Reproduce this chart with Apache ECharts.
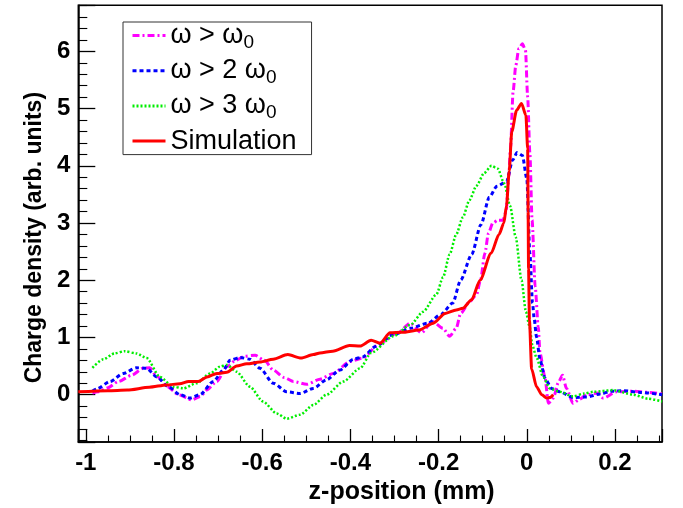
<!DOCTYPE html>
<html><head><meta charset="utf-8">
<script src="https://cdn.jsdelivr.net/npm/echarts@6/dist/echarts.min.js"></script>
<style>html,body{margin:0;padding:0;background:#fff}#c{width:683px;height:508px}</style>
</head><body><div id="c"></div>
<script>
// ---- data ----
const SERIES_NAMES = ['ω > ω0', 'ω > 2 ω0', 'ω > 3 ω0', 'Simulation'];
const X_TICKS = [-1, -0.8, -0.6, -0.4, -0.2, 0, 0.2];
const Y_TICKS = [0, 1, 2, 3, 4, 5, 6];

const W1_X = [-0.985, -0.972, -0.950, -0.926, -0.896, -0.870, -0.855, -0.839, -0.815, -0.790, -0.760, -0.740, -0.726, -0.703, -0.680, -0.660, -0.640, -0.616, -0.595, -0.575, -0.550, -0.529, -0.499, -0.469, -0.439, -0.401, -0.372, -0.333, -0.293, -0.264, -0.239, -0.214, -0.190, -0.175, -0.160, -0.150, -0.130, -0.114, -0.105, -0.095, -0.087, -0.077, -0.065, -0.054, -0.047, -0.041, -0.037, -0.031, -0.025, -0.018, -0.010, -0.003, 0.002, 0.007, 0.012, 0.019, 0.026, 0.030, 0.041, 0.049, 0.060, 0.072, 0.081, 0.090, 0.105, 0.120, 0.136, 0.161, 0.173, 0.204, 0.242, 0.275, 0.307];
const W1_Y = [0.03, 0.05, 0.12, 0.23, 0.34, 0.46, 0.47, 0.32, 0.14, 0.00, -0.09, -0.03, 0.08, 0.23, 0.49, 0.60, 0.67, 0.69, 0.60, 0.43, 0.30, 0.23, 0.18, 0.27, 0.37, 0.58, 0.64, 0.90, 1.08, 1.25, 1.08, 1.28, 1.16, 1.02, 1.16, 1.42, 1.62, 1.75, 2.00, 2.47, 2.82, 3.00, 3.05, 3.05, 3.20, 3.80, 4.30, 5.30, 5.75, 6.05, 6.13, 6.02, 5.20, 4.22, 3.05, 1.89, 1.19, 0.72, 0.31, -0.15, -0.06, 0.22, 0.34, 0.11, -0.15, -0.08, 0.00, 0.03, -0.06, 0.05, 0.06, 0.04, 0.01];

const W2_X = [-0.985, -0.975, -0.945, -0.915, -0.885, -0.862, -0.839, -0.813, -0.786, -0.764, -0.741, -0.711, -0.688, -0.673, -0.650, -0.628, -0.605, -0.575, -0.544, -0.514, -0.484, -0.454, -0.424, -0.393, -0.372, -0.343, -0.303, -0.264, -0.224, -0.195, -0.168, -0.150, -0.125, -0.104, -0.085, -0.068, -0.046, -0.032, -0.022, -0.010, 0.000, 0.007, 0.013, 0.017, 0.022, 0.030, 0.041, 0.056, 0.075, 0.105, 0.136, 0.166, 0.191, 0.219, 0.257, 0.307];
const W2_Y = [0.06, 0.10, 0.23, 0.37, 0.47, 0.46, 0.31, 0.14, 0.00, -0.06, 0.00, 0.23, 0.43, 0.60, 0.65, 0.62, 0.46, 0.20, 0.05, 0.02, 0.11, 0.26, 0.43, 0.62, 0.66, 0.84, 1.05, 1.16, 1.25, 1.40, 1.60, 2.00, 2.45, 2.97, 3.45, 3.64, 3.72, 4.10, 4.23, 4.18, 3.78, 2.47, 1.60, 1.31, 1.01, 0.61, 0.29, 0.11, 0.05, -0.05, -0.04, 0.01, 0.06, 0.07, 0.04, 0.00];

const W3_X = [-0.985, -0.960, -0.935, -0.912, -0.885, -0.862, -0.832, -0.802, -0.779, -0.749, -0.718, -0.696, -0.680, -0.658, -0.628, -0.598, -0.567, -0.544, -0.514, -0.484, -0.454, -0.416, -0.378, -0.353, -0.303, -0.264, -0.235, -0.205, -0.190, -0.175, -0.160, -0.145, -0.130, -0.114, -0.097, -0.080, -0.066, -0.051, -0.038, -0.025, -0.012, -0.002, 0.006, 0.013, 0.022, 0.037, 0.052, 0.075, 0.105, 0.130, 0.151, 0.196, 0.241, 0.275, 0.307];
const W3_Y = [0.47, 0.62, 0.72, 0.76, 0.72, 0.64, 0.31, 0.14, 0.11, 0.20, 0.37, 0.49, 0.52, 0.40, 0.14, -0.12, -0.33, -0.42, -0.35, -0.18, 0.00, 0.23, 0.46, 0.73, 1.02, 1.22, 1.45, 1.75, 2.05, 2.45, 2.80, 3.10, 3.40, 3.65, 3.87, 4.00, 3.95, 3.69, 3.30, 2.75, 2.00, 1.45, 1.20, 0.85, 0.65, 0.31, 0.11, 0.05, -0.03, 0.02, 0.05, 0.08, 0.00, -0.07, -0.12];

const SIM_X = [-1.017, -0.950, -0.906, -0.856, -0.817, -0.787, -0.767, -0.745, -0.725, -0.703, -0.680, -0.658, -0.635, -0.605, -0.575, -0.542, -0.512, -0.484, -0.469, -0.440, -0.402, -0.378, -0.353, -0.333, -0.310, -0.283, -0.244, -0.212, -0.185, -0.160, -0.145, -0.125, -0.106, -0.081, -0.063, -0.052, -0.046, -0.040, -0.034, -0.023, -0.012, -0.002, 0.002, 0.003, 0.004, 0.006, 0.011, 0.022, 0.034, 0.045, 0.052, 0.060];
const SIM_Y = [0.05, 0.07, 0.08, 0.13, 0.17, 0.19, 0.23, 0.23, 0.31, 0.37, 0.39, 0.50, 0.54, 0.57, 0.62, 0.70, 0.64, 0.70, 0.73, 0.76, 0.86, 0.85, 0.95, 0.90, 1.08, 1.09, 1.13, 1.25, 1.42, 1.48, 1.51, 1.66, 2.00, 2.47, 2.80, 3.00, 3.30, 3.90, 4.60, 4.97, 5.09, 4.88, 4.30, 3.20, 2.20, 1.30, 0.45, 0.14, 0.00, -0.06, -0.05, 0.00];

// ---- axis ranges ----
const X_MIN = -1.017, X_MAX = 0.3066;
const Y_MIN = -0.827, Y_MAX = 6.804;

const zip = (xs, ys) => xs.map((x, i) => [x, ys[i]]);
const FONT = 'Liberation Sans';
const near = (v, arr) => arr.some(t => Math.abs(t - v) < 1e-6);

const chart = echarts.init(document.getElementById('c'), null, {renderer: 'canvas'});

const lineSeries = (name, xs, ys, color, width, dash) => ({
  name, type: 'line', data: zip(xs, ys), symbol: 'none', showSymbol: false,
  smooth: 0.25, smoothMonotone: 'x', clip: true,
  lineStyle: {color, width, type: dash, cap: 'butt'},
  itemStyle: {color}
});

chart.setOption({
  animation: false,
  backgroundColor: '#fff',
  grid: {left: 78.3, right: 21, top: 5.3, bottom: 66, show: true,
         borderColor: '#000', borderWidth: 1.5, outerBoundsMode: 'none', containLabel: false},
  xAxis: {
    type: 'value', min: X_MIN, max: X_MAX, minInterval: 0.2, maxInterval: 0.2, splitNumber: 6,
    axisLine: {show: true, onZero: false, lineStyle: {color: '#000', width: 1.5}},
    axisTick: {show: true, inside: true, length: 13, lineStyle: {color: '#000', width: 1.3}},
    minorTick: {show: true, splitNumber: 4, length: 6.5, lineStyle: {color: '#000', width: 1.1}},
    splitLine: {show: false},
    axisLabel: {show: true, showMinLabel: false, showMaxLabel: false, margin: 9,
      color: '#000', fontFamily: FONT, fontWeight: 'bold', fontSize: 24,
      formatter: v => near(v, X_TICKS) ? String(Math.round(v * 10) / 10) : ''},
    name: 'z-position (mm)', nameLocation: 'middle', nameGap: 36,
    nameTextStyle: {color: '#000', fontFamily: FONT, fontWeight: 'bold', fontSize: 25, padding: [0, 0, 0, 63]}
  },
  yAxis: {
    type: 'value', min: Y_MIN, max: Y_MAX, minInterval: 1, maxInterval: 1, splitNumber: 7,
    axisLine: {show: true, onZero: false, lineStyle: {color: '#000', width: 1.5}},
    axisTick: {show: true, inside: true, length: 17, lineStyle: {color: '#000', width: 1.3}},
    minorTick: {show: true, splitNumber: 5, length: 9, lineStyle: {color: '#000', width: 1.1}},
    splitLine: {show: false},
    axisLabel: {show: true, showMinLabel: false, showMaxLabel: false, margin: 8,
      color: '#000', fontFamily: FONT, fontWeight: 'bold', fontSize: 24,
      formatter: v => near(v, Y_TICKS) ? String(Math.round(v)) : ''},
    name: 'Charge density (arb. units)', nameLocation: 'middle', nameRotate: 90, nameGap: 31,
    nameTextStyle: {color: '#000', fontFamily: FONT, fontWeight: 'bold', fontSize: 23, padding: [0, 28, 0, 0]}
  },
  legend: {
    show: true, orient: 'vertical', left: 123, top: 22, padding: [0, 15, 0, 8],
    itemGap: 5.4, itemWidth: 33, itemHeight: 20, selectedMode: false,
    borderColor: '#333', borderWidth: 1, backgroundColor: '#fff',
    data: SERIES_NAMES,
    lineStyle: {width: 3},
    itemStyle: {opacity: 0},
    formatter: name => name.startsWith('ω')
      ? '{m|' + name.slice(0, -1) + '}{s|' + name.slice(-1) + '}'
      : '{m|' + name + '}',
    textStyle: {color: '#000', fontFamily: FONT, fontSize: 27,
      rich: {
        m: {color: '#000', fontFamily: FONT, fontSize: 27, lineHeight: 32.6},
        s: {color: '#000', fontFamily: FONT, fontSize: 19, lineHeight: 11, verticalAlign: 'bottom'}
      }}
  },
  series: [
    lineSeries(SERIES_NAMES[0], W1_X, W1_Y, '#ff00ff', 3, [7, 3, 2, 3]),
    lineSeries(SERIES_NAMES[1], W2_X, W2_Y, '#0000ff', 3, [4, 3]),
    lineSeries(SERIES_NAMES[2], W3_X, W3_Y, '#00ee00', 2.5, [2, 2]),
    lineSeries(SERIES_NAMES[3], SIM_X, SIM_Y, '#ff0000', 3, 'solid')
  ]
});
</script></body></html>
